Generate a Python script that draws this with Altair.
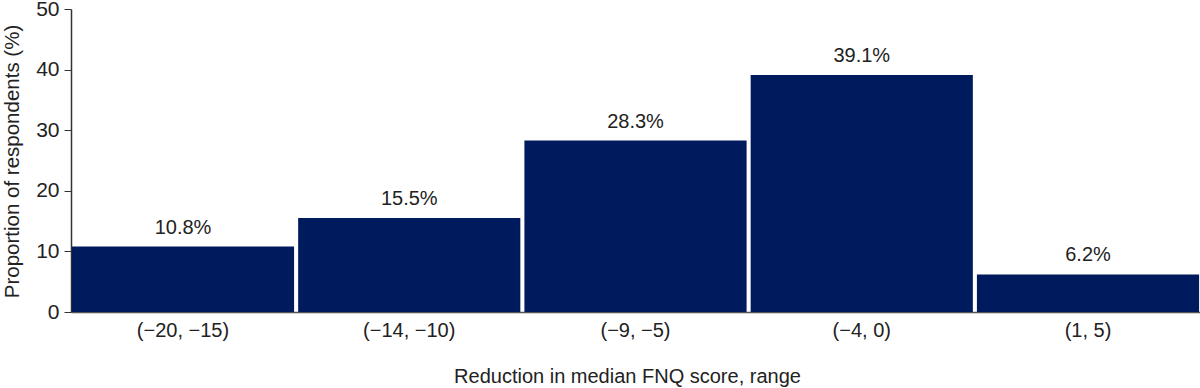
import altair as alt
import pandas as pd

ranges = ["(\u221220, \u221215)", "(\u221214, \u221210)", "(\u22129, \u22125)", "(\u22124, 0)", "(1, 5)"]
shares = [10.8, 15.5, 28.3, 39.1, 6.2]

df = pd.DataFrame({"range": ranges, "share": shares})
df["label"] = [f"{v:.1f}%" for v in shares]

FONT = "Liberation Sans"
INK = "#222222"

x = alt.X(
    "range:N",
    sort=ranges,
    title="Reduction in median FNQ score, range",
    scale=alt.Scale(paddingInner=0.018, paddingOuter=0.004),
    axis=alt.Axis(
        labelAngle=0, ticks=False, labelPadding=8, titlePadding=26,
        titleX=556, titleAlign="center",
        domainColor="#555555", domainWidth=1.5,
        labelFontSize=20, titleFontSize=20, labelColor=INK, titleColor=INK,
        labelFont=FONT, titleFont=FONT, titleFontWeight="normal",
    ),
)
y = alt.Y(
    "share:Q",
    title="Proportion of respondents (%)",
    scale=alt.Scale(domain=[0, 50], nice=False),
    axis=alt.Axis(
        values=[0, 10, 20, 30, 40, 50], grid=False, tickSize=7, tickColor="#333333",
        domainColor="#333333", domainWidth=1.5, labelPadding=5,
        titleX=-59, titleY=152, titleAngle=270, titleAlign="center", titleBaseline="middle",
        labelFontSize=21, titleFontSize=20.5, labelColor=INK, titleColor=INK,
        labelFont=FONT, titleFont=FONT, titleFontWeight="normal",
    ),
)

bars = alt.Chart(df).mark_bar(color="#001a5e").encode(x=x, y=y)
labels = alt.Chart(df).mark_text(
    dy=-13, baseline="alphabetic", fontSize=20, font=FONT, color=INK
).encode(x=alt.X("range:N", sort=ranges), y="share:Q", text="label:N")

chart = (
    alt.layer(bars, labels)
    .properties(
        width=1129, height=303,
        autosize=alt.AutoSizeParams(type="none"),
        padding={"left": 71, "top": 9, "right": 0, "bottom": 76},
    )
    .configure_view(stroke=None)
)

chart.save("out.html", embed_options={"renderer": "svg", "actions": False})
